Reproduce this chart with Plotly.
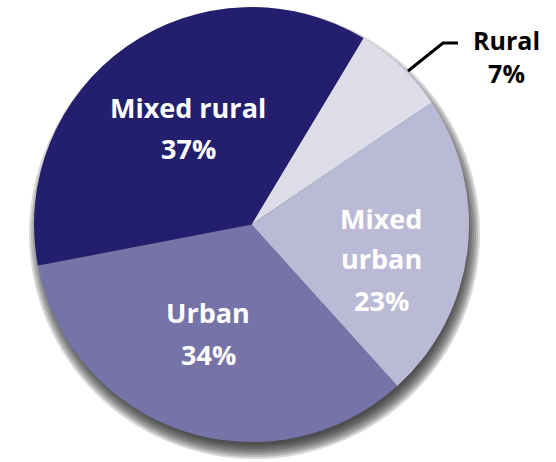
import plotly.graph_objects as go

# Share of areas by settlement type (percent)
labels = ["Rural", "Mixed urban", "Urban", "Mixed rural"]
shares = [7, 23, 34, 37]
label_lines = [["Rural"], ["Mixed", "urban"], ["Urban"], ["Mixed rural"]]
colors = ["#dddce9", "#bbbad6", "#7673a9", "#231f6e"]

W, H = 556, 462
CX, CY, R = 251.5, 224.5, 217.5


def px(x):
    return x / W


def py(y):
    return 1 - y / H


fig = go.Figure()

fig.add_trace(go.Pie(
    labels=labels,
    values=shares,
    sort=False,
    direction="clockwise",
    rotation=31,
    marker=dict(colors=colors, line=dict(width=0)),
    textinfo="none",
    hoverinfo="label+percent",
    showlegend=False,
    domain=dict(x=[px(CX - R), px(CX + R)], y=[py(CY + R), py(CY - R)]),
))

# soft drop shadow under the pie: stacked translucent discs
shapes = []
for k in range(8):
    r = R - 6 + 2 * k
    cx, cy = CX + 3, CY + 9
    shapes.append(dict(
        type="circle", xref="paper", yref="paper", layer="below",
        x0=px(cx - r), x1=px(cx + r), y0=py(cy + r), y1=py(cy - r),
        fillcolor="rgba(30,30,30,0.17)", line=dict(width=0),
    ))

# leader line to the small outside label
shapes.append(dict(
    type="path", xref="paper", yref="paper",
    path=f"M {px(408)} {py(71)} L {px(443)} {py(43)} L {px(458)} {py(43)}",
    line=dict(color="black", width=3),
))

FONT = "Open Sans"
annotations = []


def add_label(lines, value, x, y_lines, color):
    texts = list(lines) + [f"{value}%"]
    for t, y in zip(texts, y_lines):
        annotations.append(dict(
            x=px(x), y=py(y), xref="paper", yref="paper",
            text=f"<b>{t}</b>", showarrow=False,
            xanchor="center", yanchor="middle",
            font=dict(family=FONT, size=27, color=color),
        ))


# outside label as one two-line block
annotations.append(dict(
    x=px(506), y=py(57), xref="paper", yref="paper",
    text=f"<b>{label_lines[0][0]}</b><br><b>{shares[0]}%</b>",
    showarrow=False, xanchor="center", yanchor="middle", align="center",
    font=dict(family=FONT, size=25, color="black"),
))
add_label(label_lines[1], shares[1], 381, [218, 258, 300], "white")
add_label(label_lines[2], shares[2], 208, [312, 354], "white")
add_label(label_lines[3], shares[3], 188, [108, 148], "white")

fig.update_layout(
    width=W, height=H,
    margin=dict(l=0, r=0, t=0, b=0),
    paper_bgcolor="white",
    plot_bgcolor="white",
    shapes=shapes,
    annotations=annotations,
)

fig.write_html("out.html")
